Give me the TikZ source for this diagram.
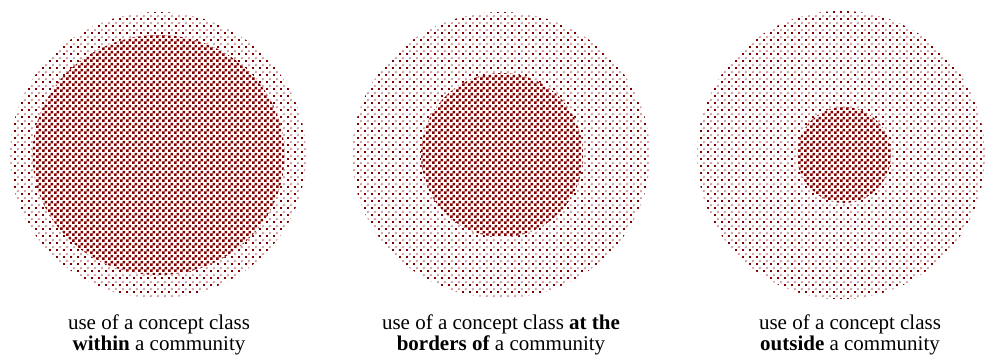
\documentclass[tikz,border=0pt]{standalone}
\usepackage{fontspec}
\setmainfont{Liberation Serif}
\usetikzlibrary{patterns}

\definecolor{cred}{HTML}{800000}
\definecolor{cpink}{HTML}{C98E8E}

% ================================================================
%  One unit = one pixel of the 985 x 355 layout (0.75pt).
%  Three discs on one row, centres at y = 200, labels below.
%  Outer disc: sparse dots; inner disc: fine checker.
% ================================================================

% fine checker, squares of 3px
\pgfdeclarepatternformonly{finechecker}{\pgfpointorigin}{\pgfqpoint{4.5pt}{4.5pt}}{\pgfqpoint{4.5pt}{4.5pt}}{%
  \pgfpathrectangle{\pgfpointorigin}{\pgfqpoint{2.25pt}{2.25pt}}%
  \pgfpathrectangle{\pgfqpoint{2.25pt}{2.25pt}}{\pgfqpoint{2.25pt}{2.25pt}}%
  \pgfusepath{fill}}
% hard square dots
\pgfdeclarepatternformonly{squaredots}{\pgfpointorigin}{\pgfqpoint{5.25pt}{5.25pt}}{\pgfqpoint{5.25pt}{5.25pt}}{%
  \pgfpathrectangle{\pgfpointorigin}{\pgfqpoint{1.5pt}{1.5pt}}%
  \pgfusepath{fill}}
% soft round dots, half a cell off
\pgfdeclarepatternformonly{softdots}{\pgfpointorigin}{\pgfqpoint{5.25pt}{5.25pt}}{\pgfqpoint{5.25pt}{5.25pt}}{%
  \pgfpathcircle{\pgfqpoint{3.375pt}{3.375pt}}{1.05pt}%
  \pgfusepath{fill}}

\tikzset{
  ring soft/.style={pattern=softdots, pattern color=cpink},
  ring hard/.style={pattern=squaredots, pattern color=cred},
  core/.style={pattern=finechecker, pattern color=cred},
  caption/.style={anchor=north, inner sep=0pt, align=center,
                  font=\fontsize{15.75}{16}\selectfont},
}

\begin{document}
\begin{tikzpicture}[x=0.75pt, y=0.75pt]

\useasboundingbox (0,0) rectangle (985,355);

% ---------------------------------------------------------------- discs
\foreach \cx/\rx/\ry/\ix/\irx/\iry/\n in {158/148/143/158.5/126/120/1,
                                          501/149/143/502/81/82/2,
                                          841/144/144/844/47/48/3} {
    \coordinate (out\n) at (\cx, 200);
    \coordinate (in\n) at (\ix, 200);
    \fill[ring soft] (out\n) ellipse [x radius=\rx, y radius=\ry];
    \fill[ring hard] (out\n) ellipse [x radius=\rx, y radius=\ry];
    \fill[white] (in\n) ellipse [x radius=\irx, y radius=\iry];
    \fill[core] (in\n) ellipse [x radius=\irx, y radius=\iry];
}

% ---------------------------------------------------------------- captions
\node[caption] (cap1) at (159, 41)
    {use of a concept class\\\textbf{within} a community};
\node[caption] (cap2) at (501, 41)
    {use of a concept class \textbf{at the}\\\textbf{borders of} a community};
\node[caption] (cap3) at (850, 41)
    {use of a concept class\\\textbf{outside} a community};

\end{tikzpicture}
\end{document}
